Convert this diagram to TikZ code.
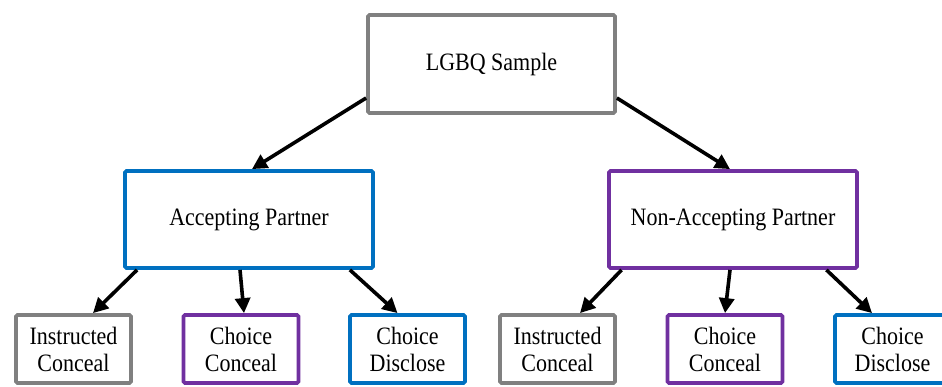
\documentclass[tikz,border=0pt]{standalone}
\usepackage{fontspec}
\setmainfont{Liberation Serif}[FakeStretch=0.88]
\usetikzlibrary{arrows.meta}

\definecolor{cajagris}{RGB}{128,128,128}
\definecolor{cajaazul}{RGB}{0,112,192}
\definecolor{cajamorada}{RGB}{112,48,160}

\begin{document}
\begin{tikzpicture}[x=1pt, y=1pt,
    caja/.style={draw, line width=3.8pt, rounded corners=1.5pt, fill=white,
        align=center, font=\fontsize{25}{27}\selectfont, inner sep=0pt},
    grande/.style={caja, minimum width=248pt, minimum height=97pt},
    chica/.style={caja, minimum width=115pt, minimum height=68pt},
    flecha/.style={line width=3.6pt, -{Triangle[length=15pt,width=15pt]}}]

        % Marco
        \useasboundingbox (0,0) rectangle (942,-386);

        % Raiz
        \node[grande, draw=cajagris, minimum width=247pt, minimum height=98pt] (raiz) at (491.5,-64) {LGBQ Sample};

        % Parejas
        \node[grande, draw=cajaazul] (acep) at (249,-219.5) {Accepting Partner};
        \node[grande, draw=cajamorada] (noacep) at (733,-219.5) {Non-Accepting Partner};

        % Hojas izquierda
        \node[chica, draw=cajagris] (instA) at (73.5,-349) {Instructed\\Conceal};
        \node[chica, draw=cajamorada] (ocultaA) at (241,-349) {Choice\\Conceal};
        \node[chica, draw=cajaazul] (revelaA) at (407.5,-349) {Choice\\Disclose};

        % Hojas derecha
        \node[chica, draw=cajagris] (instB) at (557.5,-349) {Instructed\\Conceal};
        \node[chica, draw=cajamorada] (ocultaB) at (725,-349) {Choice\\Conceal};
        \node[chica, draw=cajaazul] (revelaB) at (892.5,-349) {Choice\\Disclose};

        % Flechas desde la raiz
        \draw[flecha] ([yshift=-34pt]raiz.west) -- ([xshift=3pt]acep.north);
        \draw[flecha] ([yshift=-34pt]raiz.east) -- ([xshift=-3pt]noacep.north);

        % Flechas a las hojas
        \draw[flecha] ([xshift=14pt]acep.south west) -- ([xshift=19.5pt]instA.north);
        \draw[flecha] ([xshift=-9pt]acep.south) -- ([xshift=3pt]ocultaA.north);
        \draw[flecha] ([xshift=-25pt]acep.south east) -- ([xshift=-10pt]revelaA.north);
        \draw[flecha] ([xshift=14.5pt]noacep.south west) -- ([xshift=22.5pt]instB.north);
        \draw[flecha] ([xshift=-3pt]noacep.south) -- (ocultaB.north);
        \draw[flecha] ([xshift=-32.5pt]noacep.south east) -- ([xshift=-20.5pt]revelaB.north);

    \end{tikzpicture}
\end{document}
